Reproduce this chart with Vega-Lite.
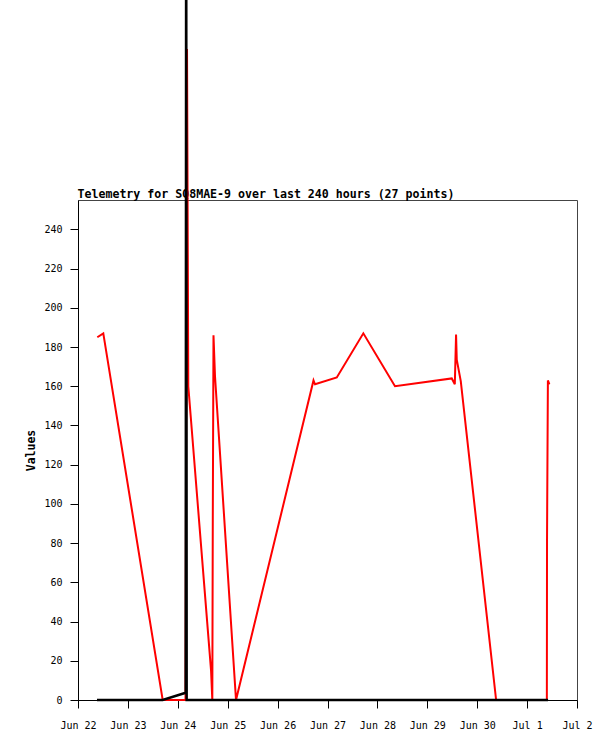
{
  "$schema": "https://vega.github.io/schema/vega-lite/v6.json",
  "width": 499,
  "height": 500,
  "autosize": {"type": "none"},
  "padding": {"left": 78, "top": 200, "right": 38, "bottom": 41},
  "background": "white",
  "config": {"view": {"stroke": "#444444", "strokeWidth": 1}, "font": "DejaVu Sans Mono"},
  "data": {"values": [
    {"t": "2024-06-22T09:17:00Z", "v": 185, "s": "r"},
    {"t": "2024-06-22T12:10:00Z", "v": 187, "s": "r"},
    {"t": "2024-06-23T16:44:00Z", "v": 0, "s": "r"},
    {"t": "2024-06-24T03:42:00Z", "v": 0, "s": "r"},
    {"t": "2024-06-24T04:26:00Z", "v": 332, "s": "r"},
    {"t": "2024-06-24T05:03:00Z", "v": 160, "s": "r"},
    {"t": "2024-06-24T16:00:00Z", "v": 15, "s": "r"},
    {"t": "2024-06-24T16:36:00Z", "v": 0, "s": "r"},
    {"t": "2024-06-24T16:50:00Z", "v": 94, "s": "r"},
    {"t": "2024-06-24T17:10:00Z", "v": 186, "s": "r"},
    {"t": "2024-06-24T17:54:00Z", "v": 165, "s": "r"},
    {"t": "2024-06-25T04:00:00Z", "v": 0, "s": "r"},
    {"t": "2024-06-26T17:16:00Z", "v": 163, "s": "r"},
    {"t": "2024-06-26T18:00:00Z", "v": 161, "s": "r"},
    {"t": "2024-06-27T04:28:00Z", "v": 164.5, "s": "r"},
    {"t": "2024-06-27T17:14:00Z", "v": 187, "s": "r"},
    {"t": "2024-06-28T08:28:00Z", "v": 160, "s": "r"},
    {"t": "2024-06-29T11:46:00Z", "v": 164, "s": "r"},
    {"t": "2024-06-29T13:14:00Z", "v": 161, "s": "r"},
    {"t": "2024-06-29T13:50:00Z", "v": 186.4, "s": "r"},
    {"t": "2024-06-29T14:10:00Z", "v": 173.6, "s": "r"},
    {"t": "2024-06-29T16:06:00Z", "v": 162.6, "s": "r"},
    {"t": "2024-06-30T09:06:00Z", "v": 0, "s": "r"},
    {"t": "2024-07-01T09:30:00Z", "v": 0, "s": "r"},
    {"t": "2024-07-01T09:35:00Z", "v": 82, "s": "r"},
    {"t": "2024-07-01T10:00:00Z", "v": 163, "s": "r"},
    {"t": "2024-07-01T10:43:00Z", "v": 161, "s": "r"},
    {"t": "2024-06-22T09:08:00Z", "v": 0, "s": "k"},
    {"t": "2024-06-23T16:44:00Z", "v": 0, "s": "k"},
    {"t": "2024-06-24T03:48:00Z", "v": 3.7, "s": "k"},
    {"t": "2024-06-24T04:02:00Z", "v": 450, "s": "k"},
    {"t": "2024-06-24T04:16:00Z", "v": 0, "s": "k"},
    {"t": "2024-07-01T10:06:00Z", "v": 0, "s": "k"}
  ]},
  "encoding": {
    "x": {"field": "t", "type": "temporal",
      "scale": {"type": "utc", "domain": [{"year": 2024, "month": 6, "date": 22, "utc": true}, {"year": 2024, "month": 7, "date": 2, "utc": true}]},
      "axis": {"title": null, "grid": false, "labelExpr": "utcFormat(datum.value, '%b %-d')",
        "values": [
          {"year": 2024, "month": 6, "date": 22, "utc": true},
          {"year": 2024, "month": 6, "date": 23, "utc": true},
          {"year": 2024, "month": 6, "date": 24, "utc": true},
          {"year": 2024, "month": 6, "date": 25, "utc": true},
          {"year": 2024, "month": 6, "date": 26, "utc": true},
          {"year": 2024, "month": 6, "date": 27, "utc": true},
          {"year": 2024, "month": 6, "date": 28, "utc": true},
          {"year": 2024, "month": 6, "date": 29, "utc": true},
          {"year": 2024, "month": 6, "date": 30, "utc": true},
          {"year": 2024, "month": 7, "date": 1, "utc": true},
          {"year": 2024, "month": 7, "date": 2, "utc": true}
        ],
        "labelFont": "DejaVu Sans Mono", "labelFontSize": 10, "labelColor": "black",
        "tickColor": "black", "domainColor": "black", "tickSize": 8, "labelPadding": 12,
        "labelFlush": false, "labelOverlap": false}},
    "y": {"field": "v", "type": "quantitative",
      "scale": {"domain": [0, 255], "nice": false, "zero": true},
      "axis": {"title": "Values", "grid": false,
        "values": [0, 20, 40, 60, 80, 100, 120, 140, 160, 180, 200, 220, 240],
        "labelFont": "DejaVu Sans Mono", "labelFontSize": 10, "labelColor": "black",
        "tickColor": "black", "domainColor": "black", "tickSize": 8, "labelPadding": 8,
        "titleFont": "DejaVu Sans Mono", "titleFontSize": 11.5, "titleFontWeight": "bold",
        "titleColor": "black", "titlePadding": 7, "labelFlush": false}}
  },
  "layer": [
    {"transform": [{"filter": "datum.s === 'r'"}],
     "mark": {"type": "line", "color": "#ff0000", "strokeWidth": 2, "clip": false}},
    {"transform": [{"filter": "datum.s === 'k'"}],
     "mark": {"type": "line", "color": "#000000", "strokeWidth": 2.5, "clip": false},
     "encoding": {
       "x": {"field": "t", "type": "temporal",
         "scale": {"type": "utc", "domain": [{"year": 2024, "month": 6, "date": 22, "utc": true}, {"year": 2024, "month": 7, "date": 2, "utc": true}]},
         "axis": {"orient": "top", "title": "Telemetry for SQ8MAE-9 over last 240 hours (27 points)",
           "labels": false, "ticks": false, "domain": false, "grid": false,
           "titleFont": "DejaVu Sans Mono", "titleFontSize": 11.6, "titleFontWeight": "bold",
           "titleColor": "black", "titleAnchor": "start", "titleAlign": "left",
           "titleBaseline": "alphabetic", "titleX": -1, "titleY": -3}}
     }}
  ],
  "resolve": {"axis": {"x": "independent"}}
}
